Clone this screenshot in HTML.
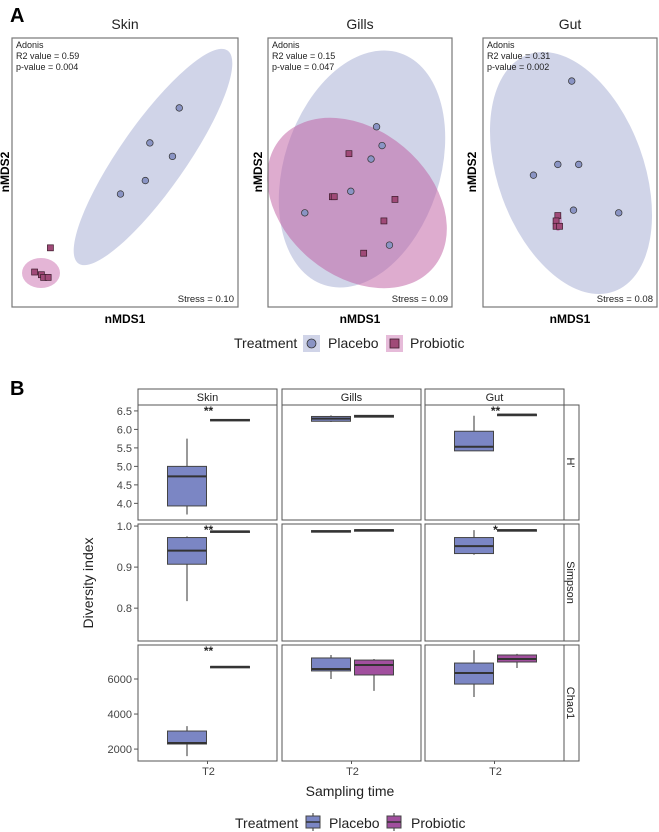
<!DOCTYPE html>
<html><head><meta charset="utf-8"><style>
html,body{margin:0;padding:0;background:#fff;}
svg{display:block;font-family:"Liberation Sans",Arial,sans-serif;}
</style></head><body>
<svg id="fig" width="659" height="832" viewBox="0 0 659 832" xmlns="http://www.w3.org/2000/svg">
<text x="10" y="22" font-size="20" font-weight="bold">A</text>
<text x="10" y="395" font-size="20" font-weight="bold">B</text>
<g id="gA"></g>
<g id="gB"></g>
</svg>
<script>
// ===== Panel A data (nMDS ordination, pixel-space coordinates scaled via axis fns) =====
const nmdsSites = ["Skin","Gills","Gut"];
const nmdsR2 = ["0.59","0.15","0.31"];
const nmdsP = ["0.004","0.047","0.002"];
const nmdsStress = ["0.10","0.09","0.08"];
// points in unit coords (0..1 of plot box), x right, y down
const skinPlaceboX = [0.74,0.61,0.71,0.59,0.48];
const skinPlaceboY = [0.26,0.39,0.44,0.53,0.58];
const skinProbioticX = [0.17,0.10,0.13,0.14,0.16];
const skinProbioticY = [0.78,0.87,0.88,0.89,0.89];
const gillsPlaceboX = [0.59,0.62,0.56,0.45,0.20,0.66];
const gillsPlaceboY = [0.33,0.40,0.45,0.57,0.65,0.77];
const gillsProbioticX = [0.44,0.35,0.36,0.69,0.63,0.52];
const gillsProbioticY = [0.43,0.59,0.59,0.60,0.68,0.80];
const gutPlaceboX = [0.51,0.29,0.43,0.55,0.52,0.78];
const gutPlaceboY = [0.16,0.51,0.47,0.47,0.64,0.65];
const gutProbioticX = [0.43,0.42,0.42,0.44];
const gutProbioticY = [0.66,0.68,0.70,0.70];

// ===== Panel B data (boxplots) =====
const sites = ["Skin","Gills","Gut"];
const metrics = ["H'","Simpson","Chao1"];
// per metric: [site][group] -> [low, q1, median, q3, high]
const shannonPlacebo = [[3.70,3.93,4.73,5.00,5.75],[6.20,6.22,6.29,6.35,6.38],[5.42,5.42,5.53,5.95,6.37]];
const shannonProbiotic = [[6.23,6.23,6.25,6.27,6.27],[6.33,6.33,6.36,6.38,6.38],[6.39,6.39,6.40,6.41,6.41]];
const simpsonPlacebo = [[0.817,0.907,0.940,0.972,0.975],[0.985,0.985,0.987,0.989,0.989],[0.930,0.933,0.951,0.972,0.990]];
const simpsonProbiotic = [[0.986,0.986,0.987,0.988,0.988],[0.989,0.989,0.990,0.991,0.991],[0.989,0.989,0.990,0.991,0.991]];
const chaoPlacebo = [[1600,2290,2350,3030,3310],[6000,6460,6570,7200,7370],[4970,5710,6340,6910,7650]];
const chaoProbiotic = [[6660,6660,6690,6720,6720],[5320,6230,6800,7080,7140],[6630,6970,7140,7370,7430]];
const shannonTicks = [4.0,4.5,5.0,5.5,6.0,6.5];
const simpsonTicks = [0.8,0.9,1.0];
const chaoTicks = [2000,4000,6000];
const tickLabelsShannon = ["4.0","4.5","5.0","5.5","6.0","6.5"];
const tickLabelsSimpson = ["0.8","0.9","1.0"];
const tickLabelsChao = ["2000","4000","6000"];
// significance stars [metric][site]
const sigLabels = [["**","",  "**"],["**","","*"],["**","",""]];

const NS="http://www.w3.org/2000/svg";
function mk(tag,attrs,parent,txt){const e=document.createElementNS(NS,tag);for(const k in attrs)e.setAttribute(k,attrs[k]);if(txt!==undefined)e.textContent=txt;parent.appendChild(e);return e;}

// ----- Panel A -----
const gA=document.getElementById('gA');
const boxesA=[{x:12,w:226},{x:268,w:184},{x:483,w:174}];
const boxY=38, boxH=269;
const ellipses=[
 [{cx:153,cy:157,rx:33,ry:130,rot:35,c:"rgba(150,160,205,0.45)",n:"placebo-ellipse"},{cx:41,cy:273,rx:19,ry:15,rot:0,c:"rgba(205,120,180,0.55)",n:"probiotic-ellipse"}],
 [{cx:362,cy:169,rx:78,ry:122,rot:18,c:"rgba(150,160,205,0.45)",n:"placebo-ellipse"},{cx:357,cy:203,rx:100,ry:73,rot:40,c:"rgba(190,90,160,0.5)",n:"probiotic-ellipse"}],
 [{cx:571,cy:173,rx:73,ry:126,rot:-20,c:"rgba(150,160,205,0.45)",n:"placebo-ellipse"},{cx:558,cy:222,rx:4,ry:9,rot:0,c:"rgba(190,90,160,0.5)",n:"probiotic-ellipse"}]
];
const ptsX=[[skinPlaceboX,skinProbioticX],[gillsPlaceboX,gillsProbioticX],[gutPlaceboX,gutProbioticX]];
const ptsY=[[skinPlaceboY,skinProbioticY],[gillsPlaceboY,gillsProbioticY],[gutPlaceboY,gutProbioticY]];
nmdsSites.forEach((s,i)=>{
  const b=boxesA[i];
  const sx=v=>b.x+v*b.w, sy=v=>boxY+v*boxH;
  const g=mk('g',{},gA);
  
  
  const t=mk('text',{x:b.x+b.w/2,y:29,'font-size':14,'text-anchor':'middle',fill:'#222'},g,s);
  
  
  ellipses[i].forEach(e=>{
    const el=mk('ellipse',{cx:e.cx,cy:e.cy,rx:e.rx,ry:e.ry,fill:e.c,transform:`rotate(${e.rot} ${e.cx} ${e.cy})`},g);
    
    
  });
  const r=mk('rect',{x:b.x,y:boxY,width:b.w,height:boxH,fill:'none',stroke:'#777','stroke-width':1.2},g);
  
  
  ptsX[i][0].forEach((v,j)=>{
    const c=mk('circle',{cx:sx(v),cy:sy(ptsY[i][0][j]),r:3.3,fill:'#8a94c4',stroke:'#333','stroke-width':0.7},g);
    
    
  });
  ptsX[i][1].forEach((v,j)=>{
    const c=mk('rect',{x:sx(v)-3,y:sy(ptsY[i][1][j])-3,width:6,height:6,fill:'#a04a78',stroke:'#3a1a2a','stroke-width':0.7},g);
    
    
  });
  const a=mk('text',{x:b.x+4,y:boxY+10,'font-size':9,fill:'#222'},g);
  
  
  mk('tspan',{x:b.x+4,dy:0},a,'Adonis');
  mk('tspan',{x:b.x+4,dy:11},a,'R2 value = '+nmdsR2[i]);
  mk('tspan',{x:b.x+4,dy:11},a,'p-value = '+nmdsP[i]);
  const st=mk('text',{x:b.x+b.w-4,y:boxY+boxH-5,'font-size':9.5,'text-anchor':'end',fill:'#222'},g,'Stress = '+nmdsStress[i]);
  
  
  const xl=mk('text',{x:b.x+b.w/2,y:323,'font-size':12,'font-weight':'bold','text-anchor':'middle'},g,'nMDS1');
  
  
  const yx=[9,262,476][i];
  const yl=mk('text',{x:yx,y:172,'font-size':12,'font-weight':'bold','text-anchor':'middle',transform:`rotate(-90 ${yx} 172)`},g,'nMDS2');
  
  
});
// legend A
(function(){
  const g=mk('g',{},gA);
  
  
  mk('text',{x:234,y:348,'font-size':14,fill:'#222'},g,'Treatment');
  mk('rect',{x:303,y:335,width:17,height:17,fill:'rgba(150,160,205,0.45)'},g);
  const c=mk('circle',{cx:311.5,cy:343.5,r:4.5,fill:'#8a94c4',stroke:'#333','stroke-width':0.8},g);
  
  
  mk('text',{x:328,y:348,'font-size':14,fill:'#222'},g,'Placebo');
  mk('rect',{x:386,y:335,width:17,height:17,fill:'rgba(205,120,180,0.5)'},g);
  const s=mk('rect',{x:390,y:339,width:9,height:9,fill:'#a04a78',stroke:'#3a1a2a','stroke-width':0.8},g);
  
  
  mk('text',{x:410,y:348,'font-size':14,fill:'#222'},g,'Probiotic');
})();

// ----- Panel B -----
const gB=document.getElementById('gB');
const colX=[138,282,425], colW=139;
const rowY=[405,524,645], rowH=[115,117,116];
const domains=[[3.55,6.66],[0.72,1.005],[1320,7940]];
const dataP=[shannonPlacebo,simpsonPlacebo,chaoPlacebo];
const dataQ=[shannonProbiotic,simpsonProbiotic,chaoProbiotic];
const ticks=[shannonTicks,simpsonTicks,chaoTicks];
const tickLabs=[tickLabelsShannon,tickLabelsSimpson,tickLabelsChao];
function yScale(m){const d=domains[m];return v=>rowY[m]+rowH[m]-(v-d[0])/(d[1]-d[0])*rowH[m];}
const fills=['#7b86c4','#a14f9e'];
// strips top
sites.forEach((s,i)=>{
  const r=mk('rect',{x:colX[i],y:389,width:colW,height:16,fill:'#fff',stroke:'#555','stroke-width':1},gB);
  
  
  mk('text',{x:colX[i]+colW/2,y:401,'font-size':11,'text-anchor':'middle',fill:'#222'},gB,s);
  const tl=mk('text',{x:colX[i]+colW/2+1,y:775,'font-size':11,'text-anchor':'middle',fill:'#444'},gB,'T2');
  
  
  mk('line',{x1:colX[i]+colW/2,x2:colX[i]+colW/2,y1:rowY[2]+rowH[2],y2:rowY[2]+rowH[2]+3,stroke:'#555'},gB);
});
metrics.forEach((m,mi)=>{
  const ys=yScale(mi);
  const r=mk('rect',{x:564,y:rowY[mi],width:15,height:rowH[mi],fill:'#fff',stroke:'#555','stroke-width':1},gB);
  
  
  const cy=rowY[mi]+rowH[mi]/2;
  mk('text',{x:567,y:cy,'font-size':11,'text-anchor':'middle',fill:'#222',transform:`rotate(90 567 ${cy})`},gB,m);
  ticks[mi].forEach((t,ti)=>{
    mk('line',{x1:134,x2:138,y1:ys(t),y2:ys(t),stroke:'#555'},gB);
    const tl=mk('text',{x:132,y:ys(t)+4,'font-size':11,'text-anchor':'end',fill:'#444'},gB,tickLabs[mi][ti]);
    
    
  });
  sites.forEach((s,si)=>{
    const px=colX[si];
    const p=mk('rect',{x:px,y:rowY[mi],width:colW,height:rowH[mi],fill:'#fff',stroke:'#555','stroke-width':1},gB);
    
    
    const center=px+colW/2+1;
    [dataP,dataQ].forEach((D,gi)=>{
      const v=D[mi][si];
      const cx=center+(gi===0?-21.5:21.5), hw=19.5;
      const g=mk('g',{},gB);
      
      
      mk('line',{x1:cx,x2:cx,y1:ys(v[0]),y2:ys(v[4]),stroke:'#333','stroke-width':1},g);
      mk('rect',{x:cx-hw,y:ys(v[3]),width:hw*2,height:Math.max(ys(v[1])-ys(v[3]),1.5),fill:fills[gi],stroke:'#444','stroke-width':1},g);
      mk('line',{x1:cx-hw,x2:cx+hw,y1:ys(v[2]),y2:ys(v[2]),stroke:'#333','stroke-width':2},g);
    });
    if(sigLabels[mi][si]){
      const st=mk('text',{x:center,y:rowY[mi]+10,'font-size':12,'font-weight':'bold','text-anchor':'middle',fill:'#222'},gB,sigLabels[mi][si]);
      
      
    }
  });
});
// axis titles
(function(){
  const t=mk('text',{x:93,y:583,'font-size':14,'text-anchor':'middle',fill:'#222',transform:'rotate(-90 93 583)'},gB,'Diversity index');
  
  
  const x=mk('text',{x:350,y:796,'font-size':14,'text-anchor':'middle',fill:'#222'},gB,'Sampling time');
  
  
  const g=mk('g',{},gB);
  
  
  mk('text',{x:235,y:828,'font-size':14,fill:'#222'},g,'Treatment');
  [[306,'Placebo',329,fills[0]],[387,'Probiotic',411,fills[1]]].forEach(e=>{
    const k=mk('g',{},g);
    
    
    mk('line',{x1:e[0]+7,x2:e[0]+7,y1:813,y2:831,stroke:'#333'},k);
    mk('rect',{x:e[0],y:816,width:14,height:12,fill:e[3],stroke:'#444'},k);
    mk('line',{x1:e[0],x2:e[0]+14,y1:822,y2:822,stroke:'#333','stroke-width':1.5},k);
    mk('text',{x:e[2],y:828,'font-size':14,fill:'#222'},k,e[1]);
  });
})();
</script>
</body></html>
